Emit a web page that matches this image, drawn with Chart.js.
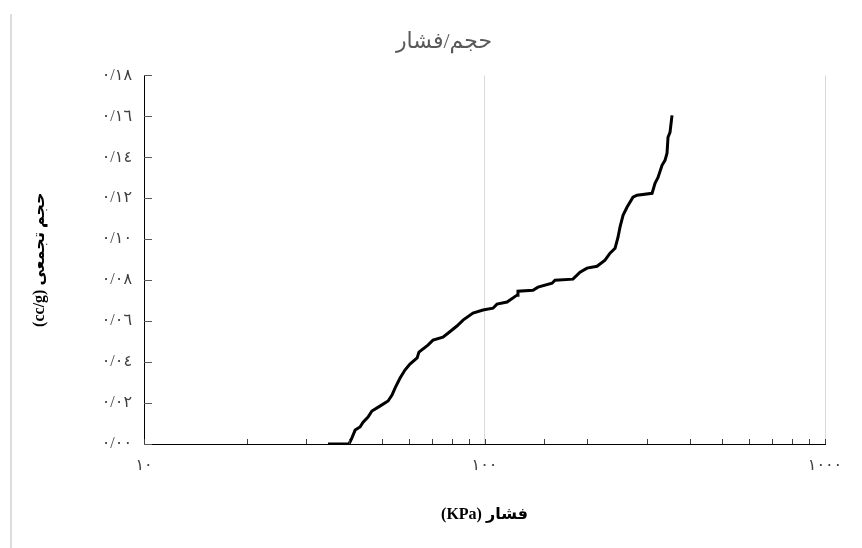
<!DOCTYPE html>
<html>
<head>
<meta charset="utf-8">
<script src="https://cdn.jsdelivr.net/npm/chart.js@4/dist/chart.umd.min.js"></script>
<style>
  html, body { margin: 0; padding: 0; background: #ffffff; }
  #wrap { position: relative; width: 862px; height: 548px; }
  #edge { position: absolute; left: 10px; top: 14px; width: 2px; height: 534px; background: #dcdcdc; }
  canvas { position: absolute; left: 0; top: 0; }
</style>
</head>
<body>
<div id="wrap">
  <div id="edge"></div>
  <canvas id="chart" width="862" height="548"></canvas>
</div>
<script>
// Mercury intrusion: cumulative pore volume against applied pressure
const pressureKPa = [34.7, 40.0, 40.8, 41.7, 43.1, 44.0, 45.5, 46.7, 49.3, 52.1, 53.5, 54.6, 56.5, 58.4,
  60.4, 63.4, 64.2, 68.2, 70.6, 75.5, 78.1, 83.0, 86.5, 92.5, 99.0, 105.9, 108.8, 116.5, 124.6, 125.4,
  138.8, 143.6, 157.9, 161.1, 181.9, 190.8, 200.0, 214.0, 225.9, 233.7, 241.8, 246.7, 250.0, 255.2,
  262.1, 272.9, 280.5, 310.5, 316.8, 323.3, 332.2, 338.9, 343.6, 345.9, 350.6, 355.4];
const volumeCcG = [0.0000, 0.0000, 0.0030, 0.0068, 0.0083, 0.0107, 0.0132, 0.0161, 0.0185, 0.0210, 0.0239,
  0.0273, 0.0322, 0.0361, 0.0390, 0.0420, 0.0449, 0.0483, 0.0507, 0.0522, 0.0541, 0.0576, 0.0605, 0.0639,
  0.0654, 0.0663, 0.0683, 0.0693, 0.0727, 0.0746, 0.0751, 0.0766, 0.0785, 0.0800, 0.0805, 0.0839, 0.0859,
  0.0868, 0.0898, 0.0932, 0.0956, 0.1010, 0.1059, 0.1117, 0.1156, 0.1205, 0.1215, 0.1224, 0.1273, 0.1302,
  0.1361, 0.1385, 0.1420, 0.1498, 0.1522, 0.1605];
const xTickLabels = [10, 100, 1000];
const chartTitle = 'حجم/فشار';
const xTitle = '(KPa) فشار';
const yTitle = '(cc/g) حجم تجمعی';

const arabicDigits = ['٠','١','٢','٣','٤','٥','٦','٧','٨','٩'];
function toArabicDigits(s) {
  return String(s).replace(/[0-9]/g, d => arabicDigits[+d]).replace('.', '/');
}

const serif = "'Liberation Serif', 'Times New Roman', 'DejaVu Sans', serif";

// Short tick marks pointing into the plot area
const innerTicks = {
  id: 'innerTicks',
  afterDatasetsDraw(chart) {
    const { ctx, scales: { x, y } } = chart;
    ctx.save();
    ctx.lineWidth = 1;
    ctx.strokeStyle = '#404040';
    x.ticks.forEach(t => {
      const px = Math.round(x.getPixelForValue(t.value)) + 0.5;
      ctx.beginPath();
      ctx.moveTo(px, y.bottom);
      ctx.lineTo(px, y.bottom - 5);
      ctx.stroke();
    });
    ctx.strokeStyle = '#595959';
    y.ticks.forEach(t => {
      const py = Math.round(y.getPixelForValue(t.value)) + 0.5;
      ctx.beginPath();
      ctx.moveTo(x.left, py);
      ctx.lineTo(x.left + 8, py);
      ctx.stroke();
    });
    ctx.restore();
  }
};

new Chart(document.getElementById('chart'), {
  type: 'scatter',
  data: {
    datasets: [{
      data: pressureKPa.map((p, i) => ({ x: p, y: volumeCcG[i] })),
      showLine: true,
      borderColor: '#000000',
      borderWidth: 3,
      pointRadius: 0,
      tension: 0
    }]
  },
  options: {
    responsive: false,
    animation: false,
    layout: { padding: { left: 63, right: 37, top: 0, bottom: 0 } },
    plugins: {
      legend: { display: false },
      tooltip: { enabled: false },
      title: {
        display: true,
        text: chartTitle,
        color: '#595959',
        font: { family: serif, size: 22, weight: 'normal' },
        padding: { top: 29, bottom: 20 }
      }
    },
    scales: {
      x: {
        type: 'logarithmic',
        min: 10,
        max: 1000,
        afterFit(scale) { scale.height = 104; },
        border: { display: true, color: '#000000', width: 1 },
        grid: {
          drawTicks: false,
          color: ctx => (ctx.tick && (ctx.tick.value === 100 || ctx.tick.value === 1000)) ? '#d9d9d9' : 'rgba(0,0,0,0)'
        },
        ticks: {
          autoSkip: false,
          maxRotation: 0,
          padding: 12,
          color: '#404040',
          font: { family: serif, size: 16 },
          callback: v => xTickLabels.includes(v) ? toArabicDigits(v) : ''
        },
        title: {
          display: true,
          text: xTitle,
          color: '#000000',
          font: { family: serif, size: 16, weight: 'bold' },
          padding: { top: 0, bottom: 24 }
        }
      },
      y: {
        min: 0,
        max: 0.18,
        afterFit(scale) { scale.width = 81; },
        border: { display: true, color: '#000000', width: 1 },
        grid: { drawTicks: false, color: 'rgba(0,0,0,0)' },
        ticks: {
          stepSize: 0.02,
          padding: 12,
          color: '#404040',
          font: { family: serif, size: 16 },
          callback: v => toArabicDigits(Number(v).toFixed(2))
        },
        title: {
          display: true,
          text: yTitle,
          color: '#000000',
          font: { family: serif, size: 16, weight: 'bold' },
          padding: { top: -32.6, bottom: 0 }
        }
      }
    }
  },
  plugins: [innerTicks]
});
</script>
</body>
</html>
